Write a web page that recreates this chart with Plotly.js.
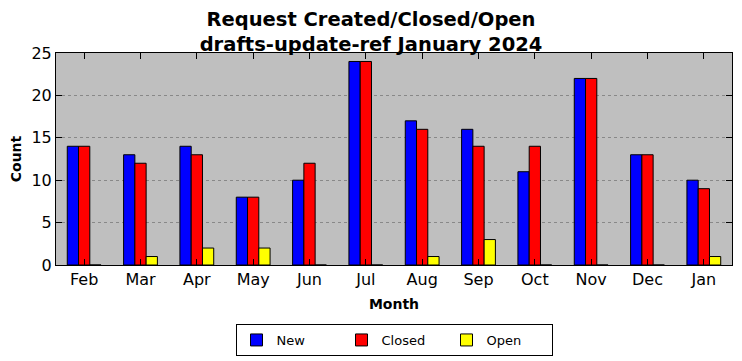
<!DOCTYPE html>
<html>
<head>
<meta charset="utf-8">
<script src="https://cdn.plot.ly/plotly-3.0.1.min.js"></script>
<style>html,body{margin:0;padding:0;background:#fff;}#chart{width:742px;height:361px;}</style>
</head>
<body>
<div id="chart"></div>
<script>
const months = ["Feb","Mar","Apr","May","Jun","Jul","Aug","Sep","Oct","Nov","Dec","Jan"];
const newCounts = [14,13,14,8,10,24,17,16,11,22,13,10];
const closedCounts = [14,12,13,8,12,24,16,14,14,22,13,9];
const openCounts = [0,1,2,2,0,0,1,3,0,0,0,1];
const yTicks = [0,5,10,15,20,25];

const font = "DejaVu Sans, sans-serif";
function series(name, y, color) {
  return {type:"bar", name:name, x:months, y:y,
    marker:{color:color, line:{color:"#000", width:1}}};
}
const data = [
  series("New", newCounts, "#0000ff"),
  series("Closed", closedCounts, "#ff0000"),
  series("Open", openCounts, "#ffff00")
];
const layout = {
  width:742, height:361,
  margin:{l:56, r:10, t:53, b:96, autoexpand:false},
  paper_bgcolor:"#ffffff", plot_bgcolor:"#bfbfbf",
  font:{family:font, color:"#000", size:16},
  title:{text:"<b>Request Created/Closed/Open<br>drafts-update-ref January 2024</b>",
    font:{family:font, size:19.5, color:"#000"}, x:0.5, xanchor:"center",
    yref:"paper", y:1, yanchor:"bottom", pad:{b:27}, automargin:false},
  barmode:"group", bargap:0.4, bargroupgap:0,
  showlegend:true,
  legend:{orientation:"h", x:0.5, xanchor:"center", yref:"container", y:1-324/361, yanchor:"top",
    bordercolor:"#000", borderwidth:1, font:{family:font, size:13}, traceorder:"normal",
    entrywidth:60, entrywidthmode:"pixels"},
  xaxis:{type:"category", range:[-0.5, 11.5], showline:true, linecolor:"#000", linewidth:1, mirror:"ticks",
    ticks:"inside", ticklen:6, tickcolor:"#000", showgrid:false, automargin:false,
    title:{text:"<b>Month</b>", font:{family:font, size:14}, standoff:10},
    tickfont:{family:font, size:16}},
  yaxis:{range:[0,25], tickvals:yTicks, showline:true, linecolor:"#000", linewidth:1, mirror:"ticks",
    ticks:"inside", ticklen:6, tickcolor:"#000", showgrid:true, gridcolor:"#888", griddash:"dot", gridwidth:1,
    zeroline:false, automargin:false,
    title:{text:"<b>Count</b>", font:{family:font, size:14}, standoff:6},
    tickfont:{family:font, size:16}}
};
Plotly.newPlot("chart", data, layout, {staticPlot:true});
</script>
</body>
</html>
